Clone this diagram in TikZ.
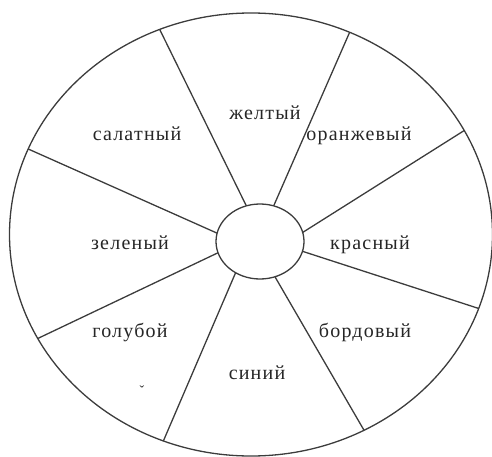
\documentclass[tikz,border=0pt]{standalone}
\usepackage{fontspec}
\newfontfamily\wheelfont[LetterSpace=6]{Liberation Serif}
\usetikzlibrary{shapes.geometric}

\begin{document}
\begin{tikzpicture}[x=1pt,y=1pt]
  \definecolor{rimgray}{RGB}{60,60,60}
  \tikzset{
    rim/.style={draw=rimgray, line width=1.3pt, ellipse, inner sep=0pt, outer sep=0pt},
    spoke/.style={draw=rimgray, line width=1.3pt},
    colorname/.style={anchor=base, text=black!85, inner sep=0pt,
      font=\wheelfont\fontsize{20}{20}\selectfont}
  }
  \useasboundingbox (0,0) rectangle (492,456);
  \node[rim, minimum width=483pt, minimum height=443pt] (wheel) at (251,221.5) {};
  \node[rim, minimum width=88pt, minimum height=75pt] (hub) at (260,214.5) {};
  % spokes: hub angle / rim angle
  \foreach \a/\b in {111.8/114.2, 69/64.9, 12.5/26.1, -13.7/-18,
                     -67.7/-60.4, 232/247.8, 195/206.4, 169/159.5}
    \draw[spoke] (hub.\a) -- (wheel.\b);
  % colour names
  \node[colorname] (yellow) at (265,336) {желтый};
  \node[colorname] (lime) at (137,316) {салатный};
  \node[colorname] (orange) at (359,316) {оранжевый};
  \node[colorname] (green) at (130,207) {зеленый};
  \node[colorname] (red) at (370,207) {красный};
  \node[colorname] (lightblue) at (130,119) {голубой};
  \node[colorname] (burgundy) at (365,119) {бордовый};
  \node[colorname] (blue) at (257,77) {синий};
  \node[colorname, anchor=center, font=\wheelfont\fontsize{14}{14}\selectfont] (tick) at (142,65) {ˇ};
\end{tikzpicture}
\end{document}
